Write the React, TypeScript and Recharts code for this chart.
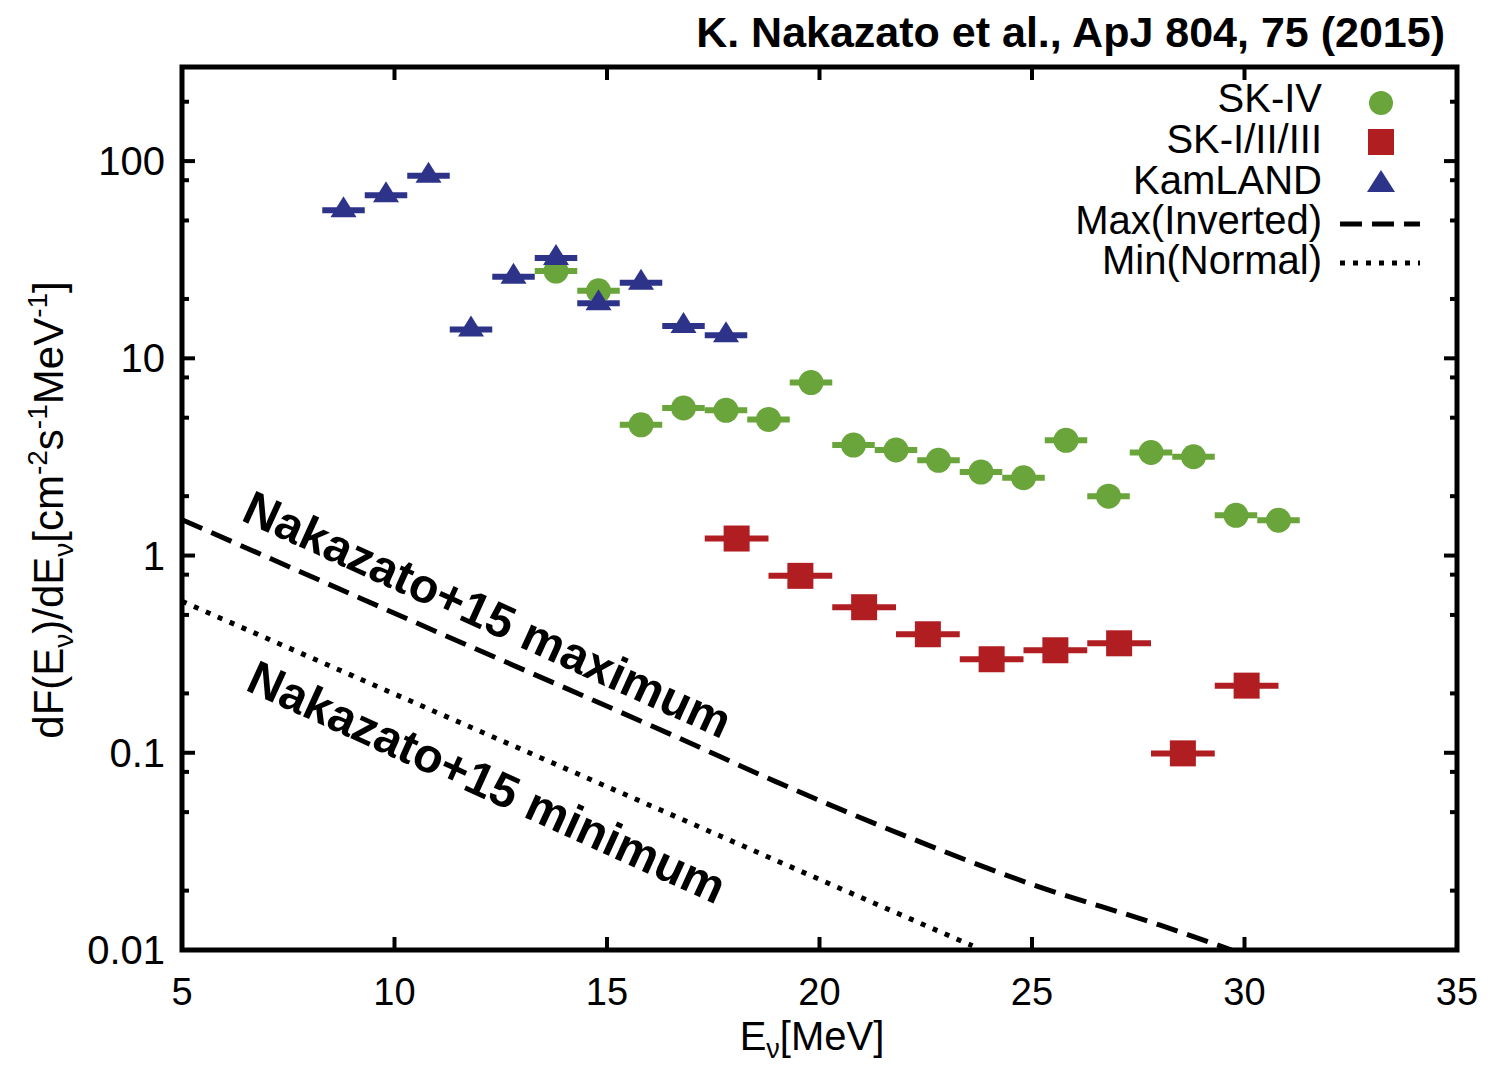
import React from "react";
import {
  ComposedChart,
  Scatter,
  Line,
  XAxis,
  YAxis,
  ErrorBar,
  ReferenceArea,
  ReferenceDot,
} from "recharts";

const FONT = '"Liberation Sans", Arial, Helvetica, sans-serif';

const GREEN = "#69a53a";
const RED = "#b11e22";
const BLUE = "#2d3388";

// KamLAND (1 MeV bins)
const kamlandE = [8.8, 9.8, 10.8, 11.8, 12.8, 13.8, 14.8, 15.8, 16.8, 17.8];
const kamlandFlux = [56.4, 67.2, 84.2, 14.0, 25.9, 32.3, 19.0, 24.2, 14.6, 13.1];

// SK-IV (1 MeV bins)
const skivE = [
  13.8, 14.8, 15.8, 16.8, 17.8, 18.8, 19.8, 20.8, 21.8, 22.8, 23.8, 24.8, 25.8,
  26.8, 27.8, 28.8, 29.8, 30.8,
];
const skivFlux = [
  27.7, 22.0, 4.6, 5.6, 5.45, 4.9, 7.53, 3.63, 3.43, 3.04, 2.65, 2.48, 3.84, 2.0,
  3.33, 3.17, 1.6, 1.51,
];

// SK-I/II/III (1.5 MeV bins)
const sk123E = [18.05, 19.55, 21.05, 22.55, 24.05, 25.55, 27.05, 28.55, 30.05];
const sk123Flux = [1.22, 0.789, 0.547, 0.399, 0.298, 0.331, 0.359, 0.0993, 0.219];

// Nakazato+15 model curves
const maxE = [5, 8, 11, 14, 16.5, 19, 22, 25, 28, 29.7];
const maxFlux = [1.52, 0.79, 0.41, 0.214, 0.124, 0.071, 0.038, 0.0215, 0.0134, 0.01];
const minE = [5, 8, 11, 14, 17, 20, 23.6];
const minFlux = [0.586, 0.306, 0.16, 0.0836, 0.0437, 0.0228, 0.0105];

const xTicks = [5, 10, 15, 20, 25, 30, 35];
const yMajor = [0.01, 0.1, 1, 10, 100];
const yMinor = [0.02, 0.05, 0.08, 0.2, 0.5, 0.8, 2, 5, 8, 20, 50, 80, 200];

const toPoints = (xs: number[], ys: number[], err?: number) =>
  xs.map((x, i) => ({ x, y: ys[i], err }));

const kamland = toPoints(kamlandE, kamlandFlux, 0.5);
const skiv = toPoints(skivE, skivFlux, 0.5);
const sk123 = toPoints(sk123E, sk123Flux, 0.75);
const maxLine = toPoints(maxE, maxFlux);
const minLine = toPoints(minE, minFlux);

const W = 1490;
const H = 1056;
const PLOT_W = 1275;
const PLOT_H = 883;

function XTick(props: any) {
  const { x, y, payload } = props;
  const v = payload.value;
  const inner = v > 5 && v < 35;
  return (
    <g>
      {inner && <line x1={x} y1={y} x2={x} y2={y - 13} stroke="#000" strokeWidth={4} />}
      {inner && (
        <line x1={x} y1={y - PLOT_H} x2={x} y2={y - PLOT_H + 13} stroke="#000" strokeWidth={4} />
      )}
      <text x={x} y={y + 55} textAnchor="middle" fontSize={38} fontFamily={FONT} fill="#000">
        {v}
      </text>
    </g>
  );
}

function YTick(props: any) {
  const { x, y, payload } = props;
  const v = payload.value;
  const major = yMajor.includes(v);
  const len = major ? 13 : 7;
  const edge = v > 0.01;
  return (
    <g>
      {edge && <line x1={x} y1={y} x2={x + len} y2={y} stroke="#000" strokeWidth={4} />}
      {edge && (
        <line x1={x + PLOT_W} y1={y} x2={x + PLOT_W - len} y2={y} stroke="#000" strokeWidth={4} />
      )}
      {major && (
        <text x={x - 17} y={y + 14} textAnchor="end" fontSize={40} fontFamily={FONT} fill="#000">
          {v}
        </text>
      )}
    </g>
  );
}

const Circle = (p: any) => <circle cx={p.cx} cy={p.cy} r={12.5} fill={GREEN} />;
const Square = (p: any) => (
  <rect x={p.cx - 13} y={p.cy - 13} width={26} height={26} fill={RED} />
);
const Triangle = (p: any) => (
  <polygon
    points={`${p.cx},${p.cy - 14} ${p.cx - 13},${p.cy + 7} ${p.cx + 13},${p.cy + 7}`}
    fill={BLUE}
  />
);

const annotation = (label: string) => (p: any) => (
  <text
    x={p.cx}
    y={p.cy}
    transform={`rotate(24.5 ${p.cx} ${p.cy})`}
    fontSize={48}
    fontWeight="bold"
    fontFamily={FONT}
    fill="#000"
  >
    {label}
  </text>
);

function Overlay() {
  const legendText = [
    { label: "SK-IV", y: 104 },
    { label: "SK-I/II/III", y: 145 },
    { label: "KamLAND", y: 186 },
    { label: "Max(Inverted)", y: 226 },
    { label: "Min(Normal)", y: 266 },
  ];
  return (
    <svg
      width={W}
      height={H + 8}
      style={{ position: "absolute", left: 0, top: 0, pointerEvents: "none" }}
      fontFamily={FONT}
    >
      <text x={1437} y={39} textAnchor="end" fontSize={43} fontWeight="bold" fill="#000">
        K. Nakazato et al., ApJ 804, 75 (2015)
      </text>

      <text transform="translate(55,502) rotate(-90)" textAnchor="middle" fontSize={42} fill="#000">
        dF(E<tspan dy={10} fontSize={28}>ν</tspan>
        <tspan dy={-10}>)/dE</tspan>
        <tspan dy={10} fontSize={28}>ν</tspan>
        <tspan dy={-10}>[cm</tspan>
        <tspan dy={-16} fontSize={28}>-2</tspan>
        <tspan dy={16}>s</tspan>
        <tspan dy={-16} fontSize={28}>-1</tspan>
        <tspan dy={16}>MeV</tspan>
        <tspan dy={-16} fontSize={28}>-1</tspan>
        <tspan dy={16}>]</tspan>
      </text>

      <text x={804} y={1042} textAnchor="middle" fontSize={40} fill="#000">
        E<tspan dy={8} fontSize={27}>ν</tspan>
        <tspan dy={-8}>[MeV]</tspan>
      </text>

      {legendText.map((r) => (
        <text key={r.label} x={1314} y={r.y} textAnchor="end" fontSize={40} fill="#000">
          {r.label}
        </text>
      ))}
      <circle cx={1373} cy={95} r={12} fill={GREEN} />
      <rect x={1360} y={121} width={26} height={26} fill={RED} />
      <polygon points="1373,162 1359,184 1387,184" fill={BLUE} />
      <line x1={1332} y1={216} x2={1412} y2={216} stroke="#000" strokeWidth={5} strokeDasharray="22 10" />
      <line x1={1332} y1={255} x2={1412} y2={255} stroke="#000" strokeWidth={5} strokeDasharray="5 8" />
    </svg>
  );
}

export default function App() {
  return (
    <div style={{ position: "relative", width: W, height: H, background: "#fff" }}>
      <ComposedChart width={W} height={H} margin={{ top: 59, right: 41, bottom: 54, left: 74 }}>
        <XAxis
          type="number"
          dataKey="x"
          domain={[5, 35]}
          ticks={xTicks}
          interval={0}
          allowDataOverflow
          axisLine={false}
          tickLine={false}
          tickSize={0}
          tickMargin={0}
          height={60}
          tick={XTick}
        />
        <YAxis
          type="number"
          dataKey="y"
          scale="log"
          domain={[0.01, 300]}
          ticks={[...yMajor, ...yMinor]}
          interval={0}
          allowDataOverflow
          axisLine={false}
          tickLine={false}
          tickSize={0}
          tickMargin={0}
          width={100}
          tick={YTick}
        />
        <ReferenceArea
          x1={5}
          x2={35}
          y1={0.01}
          y2={300}
          fill="none"
          fillOpacity={0}
          stroke="#000"
          strokeWidth={5}
        />
        <Line
          data={maxLine}
          dataKey="y"
          type="monotone"
          stroke="#000"
          strokeWidth={5}
          strokeDasharray="22 10"
          dot={false}
          legendType="none"
          isAnimationActive={false}
        />
        <Line
          data={minLine}
          dataKey="y"
          type="monotone"
          stroke="#000"
          strokeWidth={5}
          strokeDasharray="5 8"
          dot={false}
          legendType="none"
          isAnimationActive={false}
        />
        <Scatter name="SK-IV" data={skiv} dataKey="y" shape={Circle} isAnimationActive={false}>
          <ErrorBar dataKey="err" direction="x" width={0} stroke={GREEN} strokeWidth={6} />
        </Scatter>
        <Scatter name="SK-I/II/III" data={sk123} dataKey="y" shape={Square} isAnimationActive={false}>
          <ErrorBar dataKey="err" direction="x" width={0} stroke={RED} strokeWidth={6} />
        </Scatter>
        <Scatter name="KamLAND" data={kamland} dataKey="y" shape={Triangle} isAnimationActive={false}>
          <ErrorBar dataKey="err" direction="x" width={0} stroke={BLUE} strokeWidth={6} />
        </Scatter>
        <ReferenceDot x={6.36} y={1.52} r={0} shape={annotation("Nakazato+15 maximum")} />
        <ReferenceDot x={6.46} y={0.209} r={0} shape={annotation("Nakazato+15 minimum")} />
      </ComposedChart>
      <Overlay />
    </div>
  );
}
